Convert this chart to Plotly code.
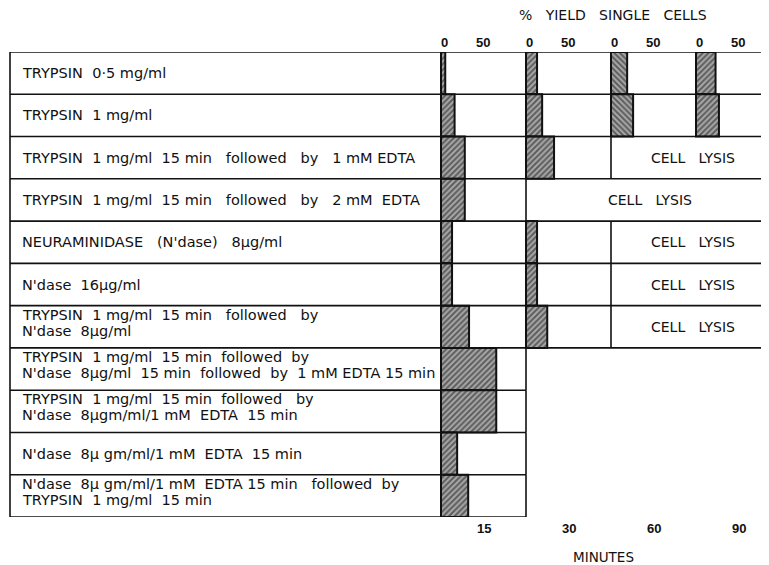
import plotly.graph_objects as go

NB = "\u00a0"

def sp(s):
    return s.replace(" ", NB)

# ---------------- data ----------------
treatments = [
    "TRYPSIN  0·5 mg/ml",
    "TRYPSIN  1 mg/ml",
    "TRYPSIN  1 mg/ml  15 min   followed   by   1 mM EDTA",
    "TRYPSIN  1 mg/ml  15 min   followed   by   2 mM  EDTA",
    "NEURAMINIDASE   (N'dase)   8µg/ml",
    "N'dase  16µg/ml",
    "TRYPSIN  1 mg/ml  15 min   followed   by|N'dase  8µg/ml",
    "TRYPSIN  1 mg/ml  15 min  followed  by|N'dase  8µg/ml  15 min  followed  by  1 mM EDTA 15 min",
    "TRYPSIN  1 mg/ml  15 min  followed   by|N'dase  8µgm/ml/1 mM  EDTA  15 min",
    "N'dase  8µ gm/ml/1 mM  EDTA  15 min",
    "N'dase  8µ gm/ml/1 mM  EDTA 15 min   followed  by|TRYPSIN  1 mg/ml  15 min",
]
minutes = ["15", "30", "60", "90"]
# % yield of single cells per time point (None = not measured / cell lysis)
yield_15 = [5, 16, 28, 28, 13, 13, 33, 65, 65, 19, 32]
yield_30 = [13, 19, 33, None, 13, 13, 25, None, None, None, None]
yield_60 = [19, 26, None, None, None, None, None, None, None, None, None]
yield_90 = [23, 27, None, None, None, None, None, None, None, None, None]
# index of first time point at which cell lysis occurred (None = none)
lysis_from = [None, None, 2, 1, 2, 2, 2, None, None, None, None]
# number of time points tested per treatment
n_times = [4, 4, 4, 4, 4, 4, 4, 1, 1, 1, 1]
pct_ticks = ["0", "50"]
pct_tick_vals = [0, 50]
GROUP = 100  # each time point occupies 0..100 % on the x axis

series = [yield_15, yield_30, yield_60, yield_90]

# ---------------- layout geometry ----------------
OFF = 8  # page body margin
W, H = 769 - OFF, 565 - OFF
MT = 52 - OFF
MB = H - (517 - OFF)
PX0 = 441.0 - OFF      # pixel of 0 % in first group
SCALE = 0.85           # px per % unit
X0 = (0 - PX0) / SCALE
X1 = (W - PX0) / SCALE
LABEL_LEFT = (10 - OFF - PX0) / SCALE
nrows = len(treatments)
row_px = (H - MT - MB) / nrows

def ux(px_ref):
    return (px_ref - OFF - PX0) / SCALE

def py(px_ref):
    return 1 + (MT - (px_ref - OFF)) / (H - MT - MB)

TXT = "DejaVu Sans, Verdana, sans-serif"
INK = "#111"

fig = go.Figure()

shape_dirs = [["/"] * nrows, ["/"] * nrows, ["\\"] * nrows, ["/"] * nrows]

for g, vals in enumerate(series):
    ys = [i for i, v in enumerate(vals) if v is not None]
    xs = [v for v in vals if v is not None]
    fig.add_trace(go.Bar(
        orientation="h", y=ys, x=xs, base=[g * GROUP] * len(xs),
        width=1.0,
        marker=dict(
            color="white",
            line=dict(color=INK, width=2),
            pattern=dict(shape=[shape_dirs[g][i] for i in ys],
                         fgcolor="#111", bgcolor="#a8a8a8",
                         size=4, solidity=0.5),
        ),
        showlegend=False, hoverinfo="skip",
    ))

shapes = []
line = dict(color=INK, width=1.6)
# horizontal row borders
for k in range(nrows + 1):
    above = n_times[k - 1] if k > 0 else n_times[0]
    below = n_times[k] if k < nrows else 0
    ext = max(above, below)
    xr = X1 if ext == len(minutes) else ext * GROUP
    shapes.append(dict(type="line", xref="x", yref="y", x0=LABEL_LEFT, x1=xr,
                       y0=k - 0.5, y1=k - 0.5, line=line))
# left border and label column border
for xv in (LABEL_LEFT, 0):
    shapes.append(dict(type="line", xref="x", yref="y", x0=xv, x1=xv,
                       y0=-0.5, y1=nrows - 0.5, line=line))
# right border of short rows
for i in range(nrows):
    if n_times[i] < len(minutes):
        shapes.append(dict(type="line", xref="x", yref="y",
                           x0=n_times[i] * GROUP, x1=n_times[i] * GROUP,
                           y0=i - 0.5, y1=i + 0.5, line=line))
# cell lysis boxes
annotations = []
for i, lf in enumerate(lysis_from):
    if lf is None:
        continue
    shapes.append(dict(type="line", xref="x", yref="y", x0=lf * GROUP, x1=lf * GROUP,
                       y0=i - 0.5, y1=i + 0.5, line=line))
    annotations.append(dict(x=(lf * GROUP + X1) / 2 + 3, y=i, xref="x", yref="y",
                            text=sp("CELL   LYSIS"), showarrow=False,
                            font=dict(size=14, color=INK, family=TXT)))

# treatment labels
lab_font = dict(size=14.5, color=INK, family=TXT)
for i, t in enumerate(treatments):
    parts = t.split("|")
    if len(parts) == 1:
        offs = [0.0]
    else:
        offs = [-12.0 / row_px, 4.0 / row_px]
    for p, o in zip(parts, offs):
        annotations.append(dict(x=ux(20), y=i + o, xref="x", yref="y",
                                text=sp(p), showarrow=False, xanchor="left",
                                yanchor="middle", align="left", font=lab_font))

# header
annotations.append(dict(x=ux(613), y=py(15), xref="x", yref="paper",
                        text=sp("%   YIELD   SINGLE   CELLS"), showarrow=False,
                        yanchor="middle",
                        font=dict(size=14, color=INK, family=TXT)))
for g in range(len(minutes)):
    for tv, tl in zip(pct_tick_vals, pct_ticks):
        annotations.append(dict(x=g * GROUP + tv + (4 if tv == 0 else -1), y=py(42),
                                xref="x", yref="paper", text="<b>%s</b>" % tl,
                                showarrow=False, yanchor="middle",
                                font=dict(size=13, color=INK)))
    annotations.append(dict(x=g * GROUP + 50, y=py(528), xref="x", yref="paper",
                            text="<b>%s</b>" % minutes[g], showarrow=False,
                            yanchor="middle",
                            font=dict(size=13, color=INK)))
annotations.append(dict(x=ux(603), y=py(557), xref="x", yref="paper",
                        text="MINUTES", showarrow=False, yanchor="middle",
                        font=dict(size=13.5, color=INK, family=TXT)))

fig.update_layout(
    width=W, height=H,
    margin=dict(l=0, r=0, t=MT, b=MB),
    paper_bgcolor="white", plot_bgcolor="white",
    font=dict(family="Liberation Sans, Arial, sans-serif"),
    xaxis=dict(range=[X0, X1], visible=False, fixedrange=True),
    yaxis=dict(range=[nrows - 0.5, -0.5], visible=False, fixedrange=True),
    barmode="overlay",
    shapes=shapes, annotations=annotations,
)

fig.write_html("out.html")
